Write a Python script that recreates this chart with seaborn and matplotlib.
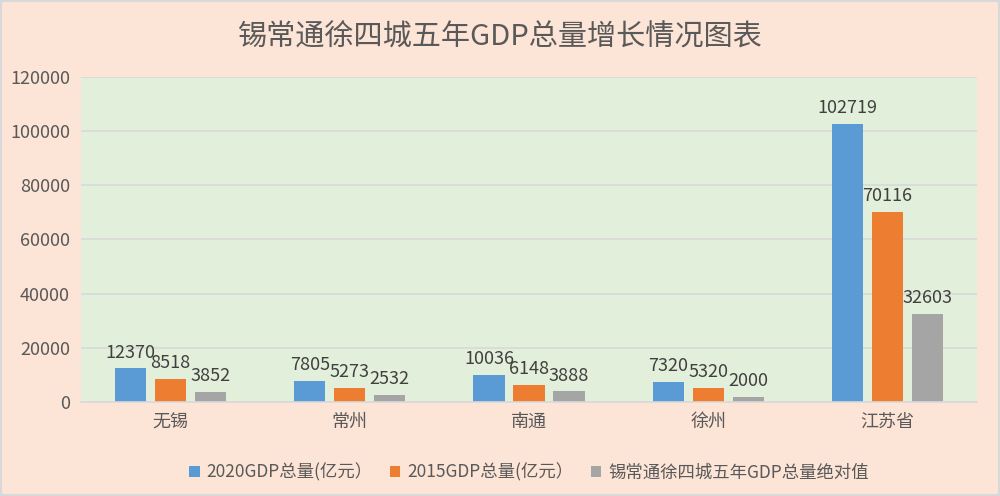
import numpy as np
import pandas as pd
import seaborn as sns
import matplotlib.pyplot as plt
from matplotlib.patches import Rectangle

cities = ["无锡", "常州", "南通", "徐州", "江苏省"]
series_names = ["2020GDP总量(亿元）", "2015GDP总量(亿元）", "锡常通徐四城五年GDP总量绝对值"]
gdp_2020 = [12370, 7805, 10036, 7320, 102719]
gdp_2015 = [8518, 5273, 6148, 5320, 70116]
gdp_diff = [3852, 2532, 3888, 2000, 32603]
colors = ["#5B9BD5", "#ED7D31", "#A5A5A5"]

df = pd.DataFrame({
    "city": cities * 3,
    "series": [series_names[0]] * 5 + [series_names[1]] * 5 + [series_names[2]] * 5,
    "value": gdp_2020 + gdp_2015 + gdp_diff,
})

sns.set_style("white")
plt.rcParams["font.family"] = ["Noto Sans CJK SC", "DejaVu Sans"]
text_color = "#595959"

fig = plt.figure(figsize=(10, 4.96), dpi=100, facecolor="#FCE4D6")
ax = fig.add_axes([0.081, 0.1895, 0.896, 0.6555])
ax.set_facecolor("#E2EFDA")

sns.barplot(data=df, x="city", y="value", hue="series", palette=colors,
            saturation=1, width=0.67, gap=0.22, linewidth=0, ax=ax, legend=True)

for cont in ax.containers:
    ax.bar_label(cont, fmt="%d", padding=5, fontsize=13, color="#404040")

ax.set_ylim(0, 120000)
ax.set_yticks(range(0, 120001, 20000))
ax.yaxis.grid(True, color="#D9D9D9", linewidth=1.2)
ax.set_axisbelow(True)
for s in ["top", "right", "left"]:
    ax.spines[s].set_visible(False)
ax.spines["bottom"].set_color("#D9D9D9")
ax.spines["bottom"].set_linewidth(1.2)
ax.tick_params(axis="both", length=0, labelsize=13, colors=text_color, pad=8)
ax.set_xlabel("")
ax.set_ylabel("")

ax.legend(loc="upper center", bbox_to_anchor=(0.5, -0.14), ncol=3, frameon=False,
          fontsize=12.5, labelcolor=text_color, handlelength=0.6, handleheight=0.6,
          handletextpad=0.4, columnspacing=1.0)

fig.text(0.5, 0.925, "锡常通徐四城五年GDP总量增长情况图表", ha="center", va="center",
         fontsize=21, color=text_color)

fig.patches.append(Rectangle((0, 0), 1, 1, transform=fig.transFigure, fill=False,
                             edgecolor="#D9D9D9", linewidth=3))

fig.savefig("out.png", dpi=100, facecolor=fig.get_facecolor())
